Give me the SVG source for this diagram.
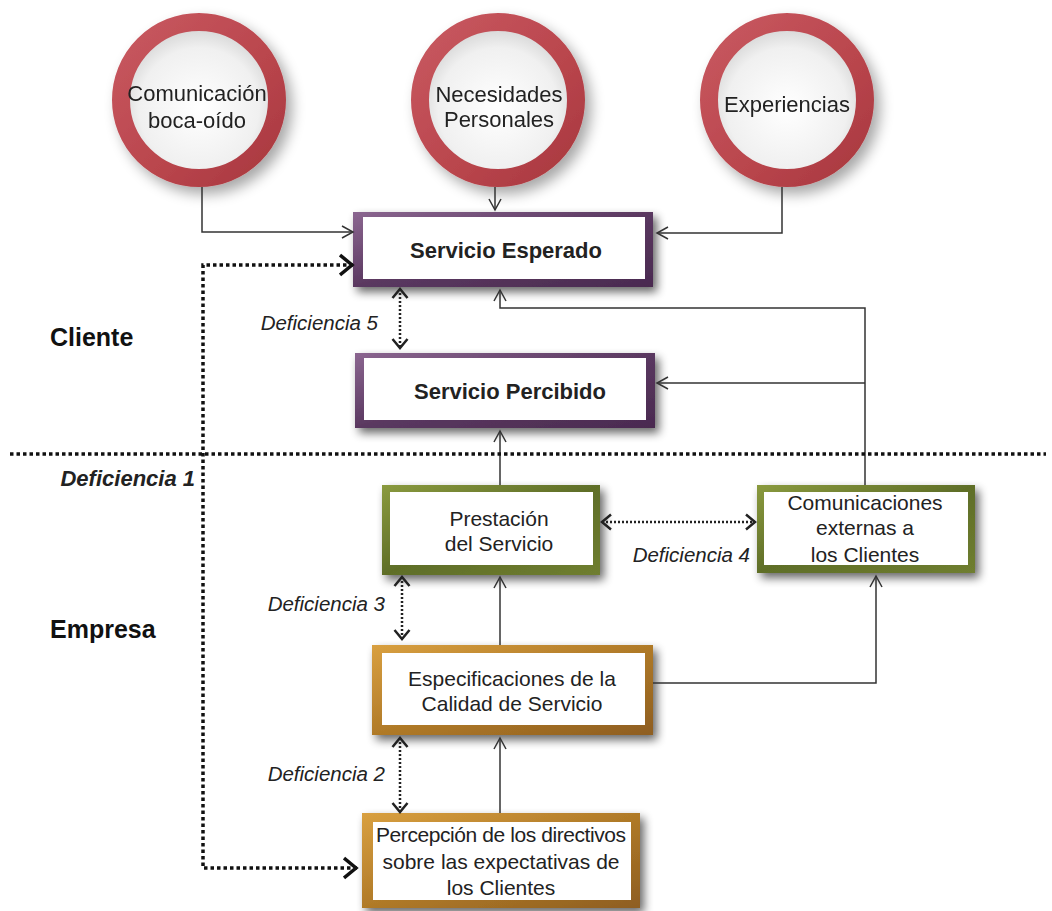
<svg xmlns="http://www.w3.org/2000/svg" width="1052" height="911" viewBox="0 0 1052 911">
<defs>
<filter id="sh" x="-20%" y="-30%" width="140%" height="160%">
<feGaussianBlur in="SourceAlpha" stdDeviation="5"/>
<feOffset dx="4" dy="5" result="b"/>
<feComponentTransfer><feFuncA type="linear" slope="0.6"/></feComponentTransfer>
<feMerge><feMergeNode/><feMergeNode in="SourceGraphic"/></feMerge>
</filter>
<filter id="csh" x="-30%" y="-30%" width="160%" height="160%">
<feGaussianBlur in="SourceAlpha" stdDeviation="7"/>
<feOffset dx="6" dy="7" result="b"/>
<feComponentTransfer><feFuncA type="linear" slope="0.35"/></feComponentTransfer>
<feMerge><feMergeNode/><feMergeNode in="SourceGraphic"/></feMerge>
</filter>
<linearGradient id="gPur" x1="0" y1="0" x2="1" y2="1">
<stop offset="0" stop-color="#8b6690"/>
<stop offset="0.5" stop-color="#5a3860"/>
<stop offset="1" stop-color="#4a2a50"/>
</linearGradient>
<linearGradient id="gGrn" x1="0" y1="0" x2="1" y2="1">
<stop offset="0" stop-color="#8a9a3e"/>
<stop offset="0.5" stop-color="#5f6e28"/>
<stop offset="1" stop-color="#6f7e30"/>
</linearGradient>
<linearGradient id="gGld" x1="0" y1="0" x2="1" y2="1">
<stop offset="0" stop-color="#d9a040"/>
<stop offset="0.5" stop-color="#b07a28"/>
<stop offset="1" stop-color="#8e5e20"/>
</linearGradient>
<linearGradient id="gRing" x1="0" y1="0" x2="1" y2="1">
<stop offset="0" stop-color="#c85860"/>
<stop offset="0.6" stop-color="#b9454c"/>
<stop offset="1" stop-color="#a8383f"/>
</linearGradient>
<radialGradient id="gIn" cx="0.5" cy="0.55" r="0.55">
<stop offset="0" stop-color="#ffffff"/>
<stop offset="0.7" stop-color="#f0f0f0"/>
<stop offset="1" stop-color="#cfcfcf"/>
</radialGradient>
<marker id="arr" viewBox="0 0 14 14" refX="12" refY="7" markerWidth="14" markerHeight="14" markerUnits="userSpaceOnUse" orient="auto-start-reverse">
<path d="M1,1 L12,7 L1,13" fill="none" stroke="#333" stroke-width="1.5"/>
</marker>
<marker id="darr" viewBox="0 0 12 18" refX="10" refY="9" markerWidth="12" markerHeight="18" markerUnits="userSpaceOnUse" orient="auto-start-reverse">
<path d="M1,1.5 L10,9 L1,16.5" fill="none" stroke="#222" stroke-width="2.5"/>
</marker>
<marker id="barr" viewBox="0 0 16 24" refX="14" refY="12" markerWidth="16" markerHeight="24" markerUnits="userSpaceOnUse" orient="auto-start-reverse">
<path d="M1,2 L13,12 L1,22" fill="none" stroke="#111" stroke-width="3.5"/>
</marker>
<style>
text{font-family:"Liberation Sans",Arial,sans-serif;font-size:21px;fill:#222}
.c{text-anchor:middle}
.ct{font-size:22px}
.b{font-weight:bold;font-size:22px}
.h{font-weight:bold;font-size:25px;fill:#111}
.i{font-style:italic;text-anchor:end;font-size:20.5px}
.d1{font-weight:bold;font-size:22px}
.inner{fill:#fff}
.ln{fill:none;stroke:#333;stroke-width:1.5}
.dl{fill:none;stroke:#222;stroke-width:2.5;stroke-dasharray:2 2}
.bl{fill:none;stroke:#111;stroke-width:3.5;stroke-dasharray:3.5 3}
.ring{fill:url(#gIn);stroke:url(#gRing);stroke-width:18}
</style>
</defs>
<rect width="1052" height="911" fill="#fff"/>

<g id="circle-comunicacion" filter="url(#csh)">
<circle class="ring" cx="199" cy="100" r="78"/>
<text class="c ct" x="197" y="101">Comunicación</text>
<text class="c ct" x="197" y="128">boca-oído</text>
</g>
<g id="circle-necesidades" filter="url(#csh)">
<circle class="ring" cx="498" cy="100" r="78"/>
<text class="c ct" x="499" y="102">Necesidades</text>
<text class="c ct" x="499" y="127">Personales</text>
</g>
<g id="circle-experiencias" filter="url(#csh)">
<circle class="ring" cx="787" cy="100" r="78"/>
<text class="c ct" x="787" y="112">Experiencias</text>
</g>

<g id="servicio-esperado">
<rect x="353" y="212" width="300" height="75" fill="url(#gPur)" filter="url(#sh)"/>
<rect class="inner" x="363" y="217" width="282" height="62"/>
<text class="c b" x="506" y="258">Servicio Esperado</text>
</g>
<g id="servicio-percibido">
<rect x="355" y="353" width="300" height="75" fill="url(#gPur)" filter="url(#sh)"/>
<rect class="inner" x="364" y="358" width="282" height="62"/>
<text class="c b" x="510" y="399">Servicio Percibido</text>
</g>
<g id="prestacion">
<rect x="382" y="485" width="218" height="90" fill="url(#gGrn)" filter="url(#sh)"/>
<rect class="inner" x="390" y="492" width="203" height="73"/>
<text class="c" x="499" y="526">Prestación</text>
<text class="c" x="499" y="551">del Servicio</text>
</g>
<g id="comunicaciones-externas">
<rect x="757" y="485" width="218" height="88" fill="url(#gGrn)" filter="url(#sh)"/>
<rect class="inner" x="764" y="492" width="204" height="73"/>
<text class="c" x="865" y="510">Comunicaciones</text>
<text class="c" x="865" y="535">externas a</text>
<text class="c" x="865" y="562">los Clientes</text>
</g>
<g id="especificaciones">
<rect x="372" y="645" width="281" height="90" fill="url(#gGld)" filter="url(#sh)"/>
<rect class="inner" x="382" y="653" width="263" height="72"/>
<text class="c" x="512" y="686">Especificaciones de la</text>
<text class="c" x="512" y="711">Calidad de Servicio</text>
</g>
<g id="percepcion">
<rect x="362" y="813" width="278" height="95" fill="url(#gGld)" filter="url(#sh)"/>
<rect class="inner" x="373" y="822" width="258" height="78"/>
<text class="c" x="501" y="842" textLength="250">Percepción de los directivos</text>
<text class="c" x="501" y="869">sobre las expectativas de</text>
<text class="c" x="501" y="895">los Clientes</text>
</g>

<g id="labels">
<text class="h" x="50" y="346">Cliente</text>
<text class="h" x="50" y="638">Empresa</text>
<text class="i d1" x="195" y="486">Deficiencia 1</text>
<text class="i" x="378" y="330">Deficiencia 5</text>
<text class="i" x="385" y="611">Deficiencia 3</text>
<text class="i" x="385" y="781">Deficiencia 2</text>
<text class="i" x="750" y="562">Deficiencia 4</text>
</g>

<g id="connectors">
<path class="ln" d="M202,187 V232 H353" marker-end="url(#arr)"/>
<path class="ln" d="M495,187 V210" marker-end="url(#arr)"/>
<path class="ln" d="M782,187 V233 H657" marker-end="url(#arr)"/>
<path class="ln" d="M865,485 V308 H500 V290" marker-end="url(#arr)"/>
<path class="ln" d="M865,383 H657" marker-end="url(#arr)"/>
<path class="ln" d="M500,485 V431" marker-end="url(#arr)"/>
<path class="ln" d="M500,645 V577" marker-end="url(#arr)"/>
<path class="ln" d="M500,813 V738" marker-end="url(#arr)"/>
<path class="ln" d="M653,683 H876 V576" marker-end="url(#arr)"/>
<path class="dl" d="M400,289 V348" marker-start="url(#darr)" marker-end="url(#darr)"/>
<path class="dl" d="M402,577 V639" marker-start="url(#darr)" marker-end="url(#darr)"/>
<path class="dl" d="M400,738 V812" marker-start="url(#darr)" marker-end="url(#darr)"/>
<path class="dl" d="M602,522 H755" marker-start="url(#darr)" marker-end="url(#darr)"/>
<path class="bl" d="M353,265 H203 V868 H357" marker-start="url(#barr)" marker-end="url(#barr)"/>
<path class="bl" d="M10,454 H1046"/>
</g>
</svg>
